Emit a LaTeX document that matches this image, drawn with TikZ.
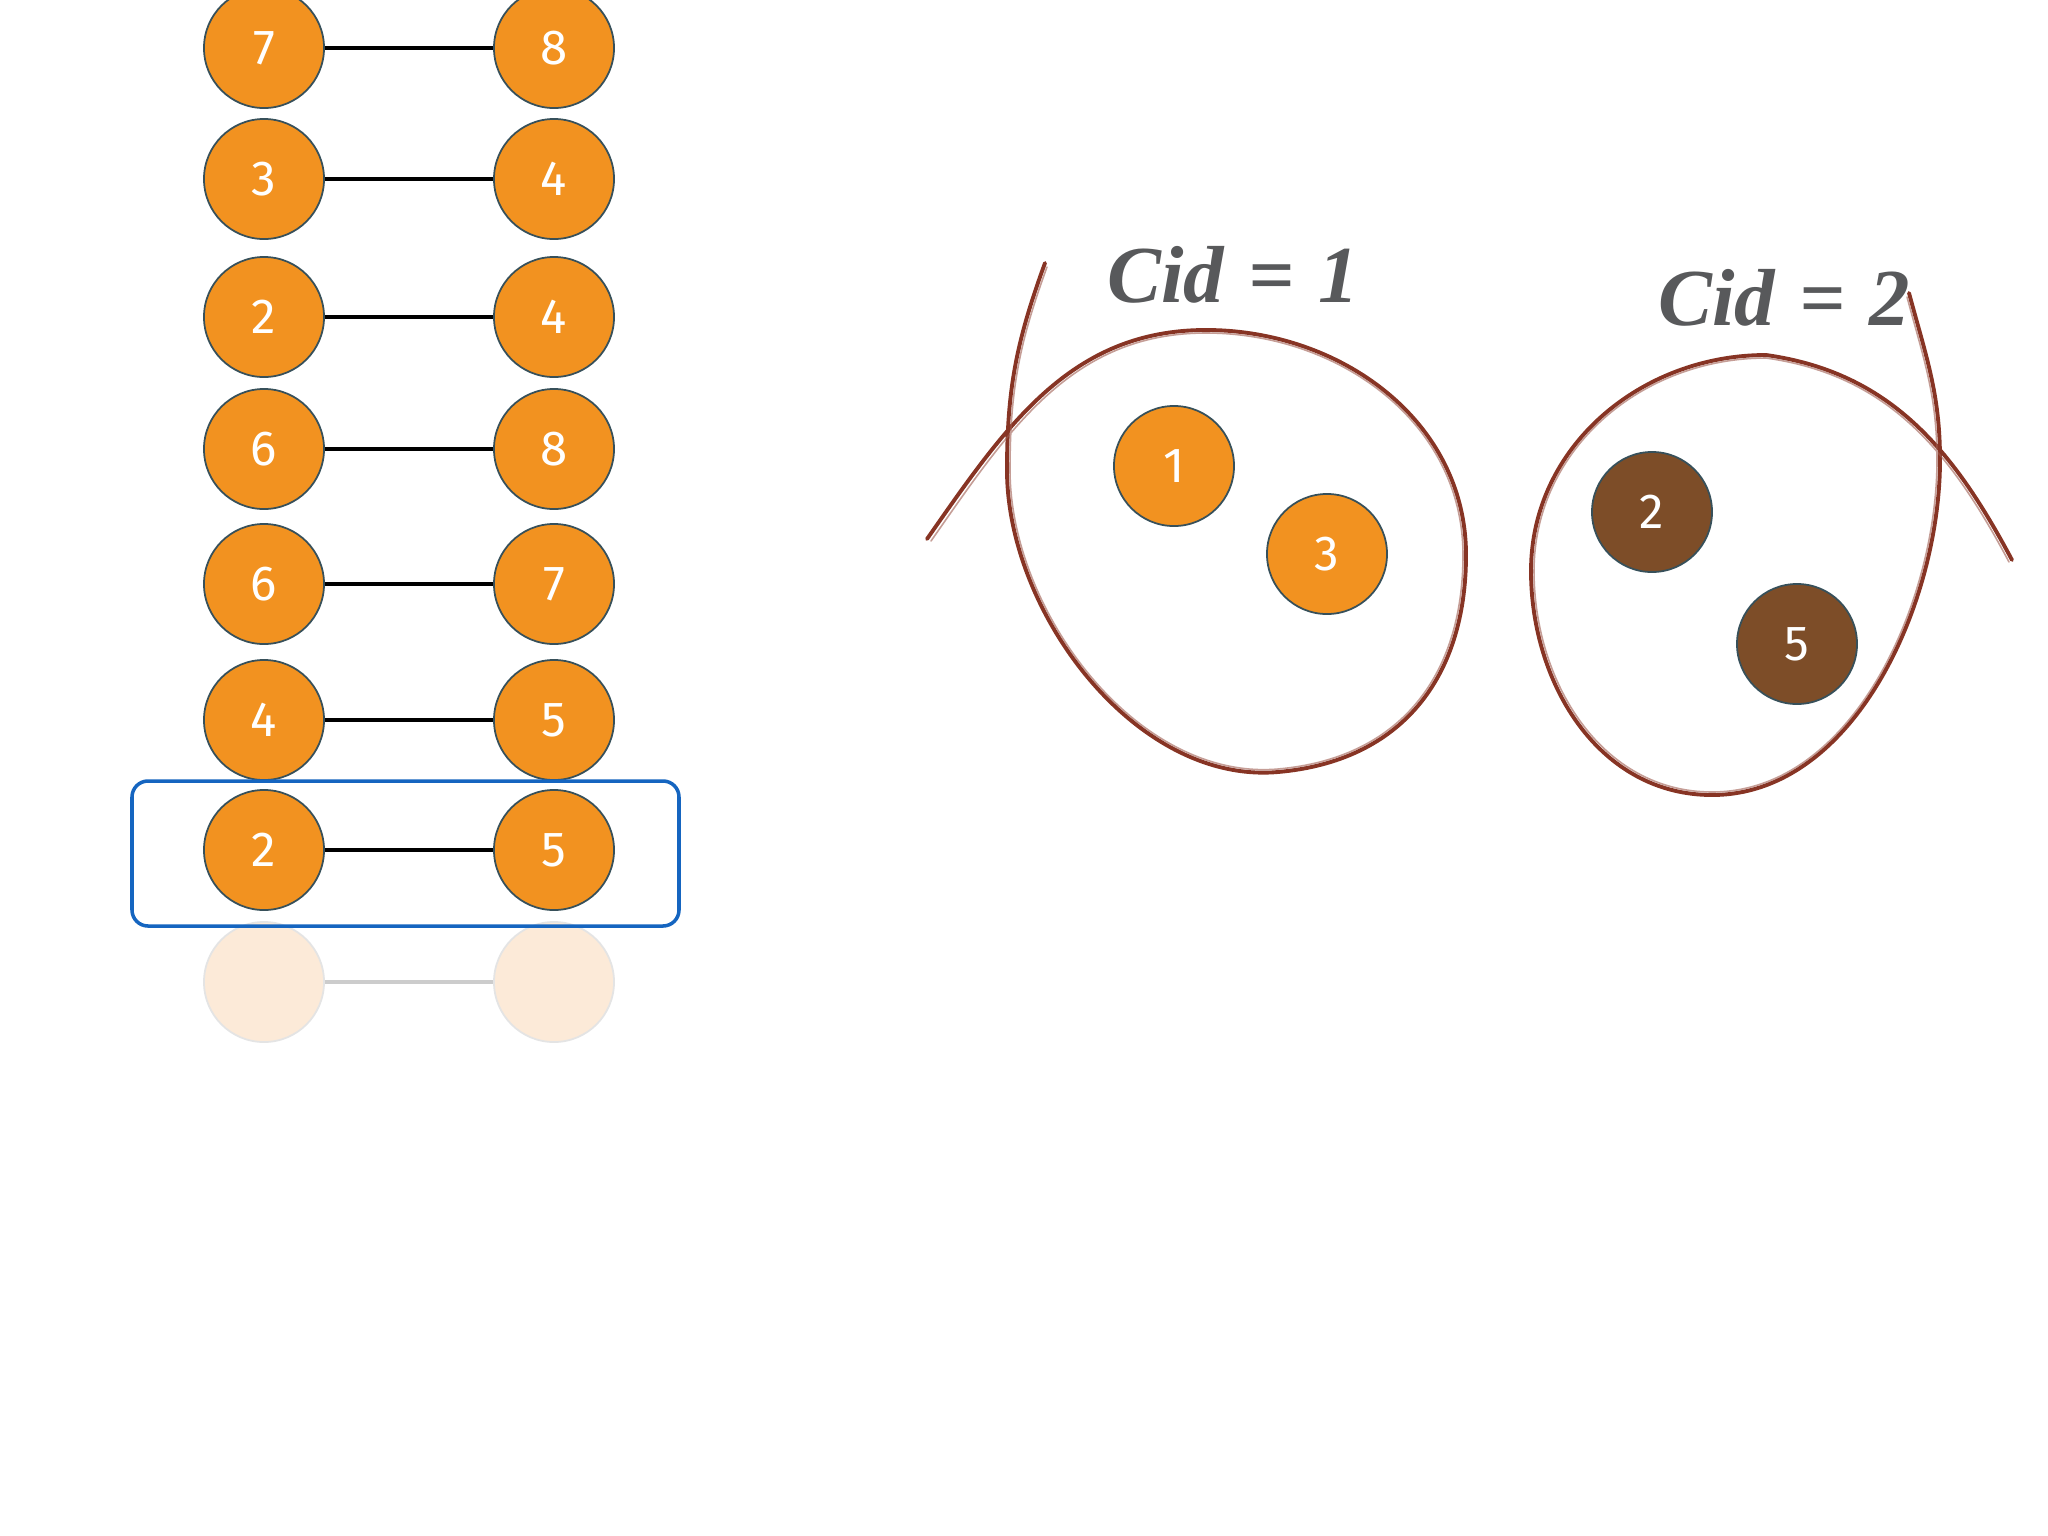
\documentclass[tikz,border=0pt]{standalone}
\usepackage{fontspec}
\setmainfont{Fira Sans}
\newfontfamily\cidfont{Liberation Serif}
\usetikzlibrary{calc}

\definecolor{vorange}{RGB}{242,146,32}
\definecolor{vbrown}{RGB}{125,77,40}
\definecolor{vrim}{RGB}{55,80,90}
\definecolor{vfade}{RGB}{252,234,216}
\definecolor{vfaderim}{RGB}{228,228,228}
\definecolor{vpick}{RGB}{21,101,192}
\definecolor{vsketch}{RGB}{135,52,36}
\definecolor{vlabel}{RGB}{88,89,91}

\begin{document}
\begin{tikzpicture}[x=0.01cm, y=-0.01cm,
        vert/.style={circle, minimum size=1.2cm, inner sep=0pt, fill=vorange, draw=vrim, line width=0.5pt, text=white, font=\fontsize{14}{16}\selectfont},
        vertb/.style={vert, fill=vbrown},
        vertf/.style={vert, fill=vfade, draw=vfaderim},
        edge/.style={line width=0.95pt, black},
        edgef/.style={line width=0.95pt, black!20},
        sketch/.style={vsketch, line width=1.1pt, line cap=round, line join=round},
        sketchb/.style={vsketch!80, line width=0.45pt, opacity=0.6, line cap=round},
        cidlabel/.style={text=vlabel, font=\cidfont\bfseries\itshape\fontsize{23}{27}\selectfont}]
        \clip (0,0) rectangle (2048,1536);
        \fill[white] (0,0) rectangle (2048,1536);

        % edge list
        \node[vert] (L1) at (264,48) {7};
        \node[vert] (R1) at (554,48) {8};
        \node[vert] (L2) at (264,179) {3};
        \node[vert] (R2) at (554,179) {4};
        \node[vert] (L3) at (264,317) {2};
        \node[vert] (R3) at (554,317) {4};
        \node[vert] (L4) at (264,449) {6};
        \node[vert] (R4) at (554,449) {8};
        \node[vert] (L5) at (264,584) {6};
        \node[vert] (R5) at (554,584) {7};
        \node[vert] (L6) at (264,720) {4};
        \node[vert] (R6) at (554,720) {5};
        \node[vert] (L7) at (264,850) {2};
        \node[vert] (R7) at (554,850) {5};
        \node[vertf] (L8) at (264,982) {};
        \node[vertf] (R8) at (554,982) {};

        \draw[edge] (L1) -- (R1);
        \draw[edge] (L2) -- (R2);
        \draw[edge] (L3) -- (R3);
        \draw[edge] (L4) -- (R4);
        \draw[edge] (L5) -- (R5);
        \draw[edge] (L6) -- (R6);
        \draw[edge] (L7) -- (R7);
        \draw[edgef] (L8) -- (R8);

        % current edge
        \draw[vpick, line width=1pt, rounded corners=0.16cm] (132,781) rectangle (679,926);

        % clusters
        \node[cidlabel] (cid1) at (1233,275) {Cid\hspace{0.3em}=\hspace{0.3em}1};
        \node[cidlabel] (cid2) at (1784,298) {Cid\hspace{0.3em}=\hspace{0.3em}2};

        \node[vert] (A) at (1174,466) {1};
        \node[vert] (B) at (1327,554) {3};
        \node[vertb] (C) at (1652,512) {2};
        \node[vertb] (D) at (1797,644) {5};

        \coordinate (s1) at (927,539);
        \coordinate (t1) at (1206,330);
        \coordinate (r1) at (1466,555);
        \coordinate (b1) at (1278,772);
        \coordinate (l1) at (1007,470);
        \coordinate (e1) at (1045,263);
        \draw[sketch] (s1) to[out=55, in=180] (t1) to[out=0, in=90] (r1)
            to[out=-90, in=5, looseness=1.1] (b1) to[out=185, in=-90, looseness=0.9] (l1)
            to[out=90, in=-110] (e1);
        \draw[sketchb] ($(s1)+(4,2)$) to[out=55, in=180] ($(t1)+(0,3)$) to[out=0, in=90] ($(r1)+(-3,0)$)
            to[out=-90, in=5, looseness=1.1] ($(b1)+(0,-3)$) to[out=185, in=-90, looseness=0.9] ($(l1)+(3,0)$)
            to[out=90, in=-110] ($(e1)+(2,4)$);

        \coordinate (s2) at (1909,293);
        \coordinate (r2) at (1940,460);
        \coordinate (b2) at (1712,795);
        \coordinate (l2) at (1531,571);
        \coordinate (t2) at (1766,355);
        \coordinate (e2) at (2012,560);
        \draw[sketch] (s2) to[out=-75, in=90] (r2) to[out=-90, in=0, looseness=0.9] (b2)
            to[out=180, in=-90] (l2) to[out=90, in=180] (t2)
            to[out=-8, in=118] (e2);
        \draw[sketchb] ($(s2)+(-2,4)$) to[out=-75, in=90] ($(r2)+(-3,0)$) to[out=-90, in=0, looseness=0.9] ($(b2)+(0,-3)$)
            to[out=180, in=-90] ($(l2)+(3,0)$) to[out=90, in=180] ($(t2)+(0,3)$)
            to[out=-8, in=118] ($(e2)+(-3,2)$);
    \end{tikzpicture}
\end{document}
